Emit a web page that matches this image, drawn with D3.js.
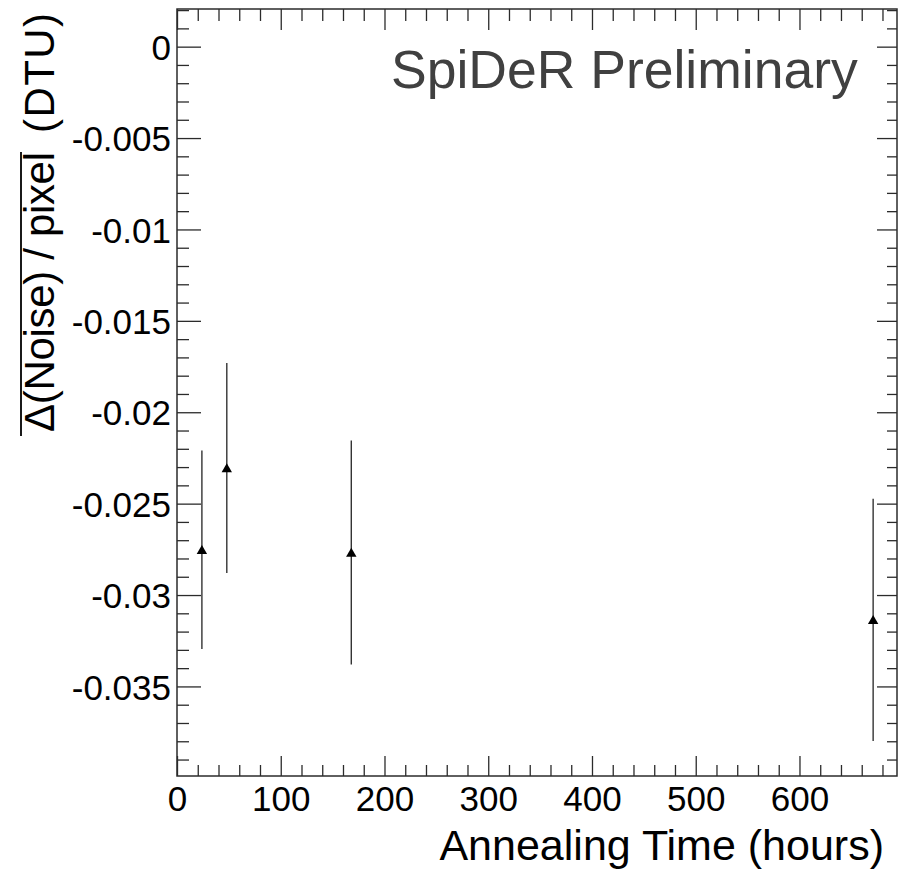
<!DOCTYPE html>
<html>
<head>
<meta charset="utf-8">
<script src="https://cdn.jsdelivr.net/npm/d3@7"></script>
<style>
  html, body { margin: 0; padding: 0; background: #fff; }
  svg { display: block; }
  text { font-family: "Liberation Sans", Arial, Helvetica, sans-serif; }
</style>
</head>
<body>
<svg id="chart" width="898" height="872"></svg>
<script>
// ---- data ----
const annealHours = [24, 48, 168, 671];
const deltaNoise  = [-0.02752, -0.02305, -0.02767, -0.03136];
const deltaErr    = [0.00543, 0.00574, 0.00613, 0.00663];
const xMajorTicks = [0, 100, 200, 300, 400, 500, 600];
const yMajorTicks = [0, -0.005, -0.01, -0.015, -0.02, -0.025, -0.03, -0.035];
const yTickLabels = ["0", "-0.005", "-0.01", "-0.015", "-0.02", "-0.025", "-0.03", "-0.035"];
const xDomain = [0, 694];
const yDomain = [-0.0399, 0.00206];

(function () {
const svg = d3.select("#chart");
const pLeft = 177, pRight = 897, pTop = 9, pBottom = 776;
const x = d3.scaleLinear().domain(xDomain).range([pLeft, pRight]);
const y = d3.scaleLinear().domain(yDomain).range([pBottom, pTop]);

const frameColor = "#2b2b2b";

// minor ticks
const xMinor = d3.range(0, xDomain[1] + 1e-9, 20).filter(v => v % 100 !== 0);
const yMinor = d3.range(-39, 3).map(v => v / 1000).filter(v => Math.abs(Math.round(v * 1000)) % 5 !== 0 && v >= yDomain[0] && v <= yDomain[1]);

// bottom axis
const gB = svg.append("g").attr("transform", `translate(0,${pBottom})`)
  .call(d3.axisBottom(x).tickValues(xMajorTicks).tickSizeInner(-20).tickSizeOuter(0).tickPadding(12).tickFormat(d3.format("d")));
svg.append("g").attr("transform", `translate(0,${pBottom})`)
  .call(d3.axisBottom(x).tickValues(xMinor).tickSizeInner(-11).tickSizeOuter(0).tickFormat(""));
// top axis
svg.append("g").attr("transform", `translate(0,${pTop})`)
  .call(d3.axisTop(x).tickValues(xMajorTicks).tickSizeInner(-21).tickSizeOuter(0).tickFormat(""));
svg.append("g").attr("transform", `translate(0,${pTop})`)
  .call(d3.axisTop(x).tickValues(xMinor).tickSizeInner(-12).tickSizeOuter(0).tickFormat(""));
// left axis
const gL = svg.append("g").attr("transform", `translate(${pLeft},0)`)
  .call(d3.axisLeft(y).tickValues(yMajorTicks).tickSizeInner(-24).tickSizeOuter(0).tickPadding(6)
    .tickFormat((d, i) => yTickLabels[i]));
svg.append("g").attr("transform", `translate(${pLeft},0)`)
  .call(d3.axisLeft(y).tickValues(yMinor).tickSizeInner(-12).tickSizeOuter(0).tickFormat(""));
// right axis
svg.append("g").attr("transform", `translate(${pRight},0)`)
  .call(d3.axisRight(y).tickValues(yMajorTicks).tickSizeInner(-20).tickSizeOuter(0).tickFormat(""));
svg.append("g").attr("transform", `translate(${pRight},0)`)
  .call(d3.axisRight(y).tickValues(yMinor).tickSizeInner(-10).tickSizeOuter(0).tickFormat(""));

svg.selectAll(".domain").remove();
svg.selectAll(".tick line").attr("stroke", frameColor).attr("stroke-width", 1.3);
svg.selectAll(".tick text").attr("fill", "#000").attr("font-size", 35)
  .attr("font-family", "'Liberation Sans', Arial, sans-serif");
// label baseline tweaks
gB.selectAll(".tick text").attr("dy", null).attr("y", 35);
gL.selectAll(".tick text").attr("dy", "0.36em");

// frame
svg.append("rect").attr("x", pLeft).attr("y", pTop)
  .attr("width", pRight - pLeft).attr("height", pBottom - pTop)
  .attr("fill", "none").attr("stroke", frameColor).attr("stroke-width", 1.5);

// error bars
const pts = annealHours.map((h, i) => ({h, v: deltaNoise[i], e: deltaErr[i]}));
svg.append("g").selectAll("line").data(pts).join("line")
  .attr("x1", d => x(d.h)).attr("x2", d => x(d.h))
  .attr("y1", d => y(d.v + d.e)).attr("y2", d => y(d.v - d.e))
  .attr("stroke", "#333").attr("stroke-width", 1.4);
// markers (triangles)
svg.append("g").selectAll("path").data(pts).join("path")
  .attr("d", "M0,-4.8L5.2,4.2L-5.2,4.2Z")
  .attr("transform", d => `translate(${x(d.h)},${y(d.v)})`)
  .attr("fill", "#000");

// x axis title
svg.append("text").attr("x", 884).attr("y", 860).attr("text-anchor", "end")
  .attr("font-size", 43).attr("fill", "#000").text("Annealing Time (hours)");

// y axis title
svg.append("text").attr("transform", "translate(54,432) rotate(-90)")
  .attr("text-anchor", "start").attr("font-size", 42).attr("fill", "#000")
  .attr("textLength", 280).attr("lengthAdjust", "spacing")
  .text("Δ(Noise) / pixel");
svg.append("text").attr("transform", "translate(54,133) rotate(-90)")
  .attr("text-anchor", "start").attr("font-size", 42).attr("fill", "#000")
  .attr("textLength", 120).attr("lengthAdjust", "spacing")
  .text("(DTU)");
svg.append("line").attr("x1", 21).attr("x2", 21).attr("y1", 152).attr("y2", 436)
  .attr("stroke", "#000").attr("stroke-width", 1.8);

// label
svg.append("text").attr("x", 391).attr("y", 88).attr("text-anchor", "start")
  .attr("font-size", 53.5).attr("fill", "#404040").text("SpiDeR Preliminary");
})();
</script>
</body>
</html>
